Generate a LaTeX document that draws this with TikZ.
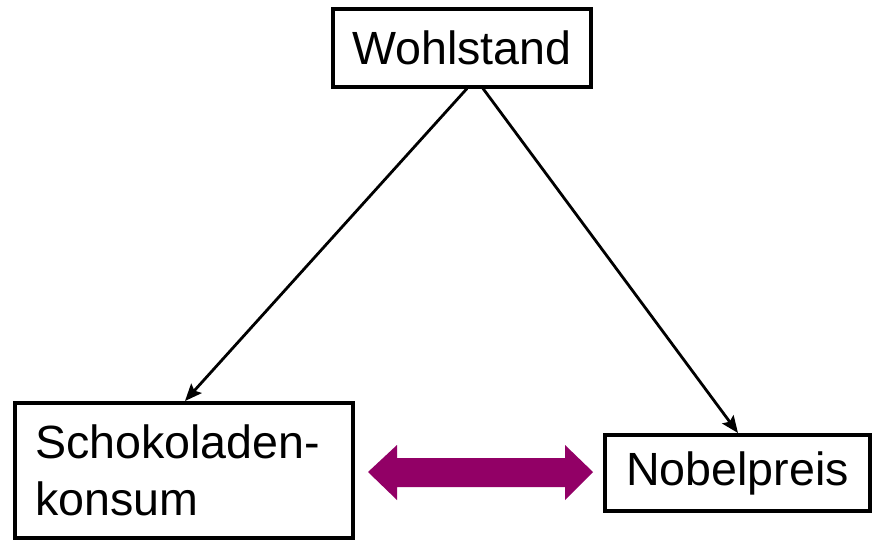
\documentclass[tikz,border=0pt]{standalone}
\usepackage{fontspec}
\setmainfont{Liberation Sans}
\usetikzlibrary{arrows.meta}
\definecolor{plum}{RGB}{146,0,102}
\begin{document}
\begin{tikzpicture}[x=0.5pt,y=-0.5pt,
  box/.style={draw=black, line width=2pt, inner sep=0pt, fill=white,
    font=\fontsize{23.3pt}{28.5pt}\selectfont},
  link/.style={line width=1.4pt, -{Stealth[length=8.5pt,width=7pt,inset=1.5pt]}},
  twoway/.style={fill=plum, draw=none}]
\useasboundingbox (0,0) rectangle (880,541);

% boxes
\node[box, minimum width=129pt, minimum height=39pt] (w) at (462,47.5) {Wohlstand};
\node[box, minimum width=169pt, minimum height=67.5pt, text width=149pt, align=left]
  (s) at (184,470.5) {Schokoladen-\\konsum};
\node[box, minimum width=132.5pt, minimum height=38pt] (n) at (737.5,473) {Nobelpreis};

% causal links
\draw[link] ([xshift=2.5pt]w.south) -- ([xshift=0.5pt]s.north);
\draw[link] ([xshift=10.5pt]w.south) -- ([xshift=0.25pt]n.north);

% mutual relation between consumption and prizes
\coordinate (l) at (368,472);
\coordinate (r) at (593,472);
\fill[twoway] (l) -- ++(29,-27) -- ++(0,13) -- ++(168,0) -- ++(0,-13)
  -- (r) -- ++(-28,28) -- ++(0,-13) -- ++(-168,0) -- ++(0,13) -- cycle;
\end{tikzpicture}
\end{document}
